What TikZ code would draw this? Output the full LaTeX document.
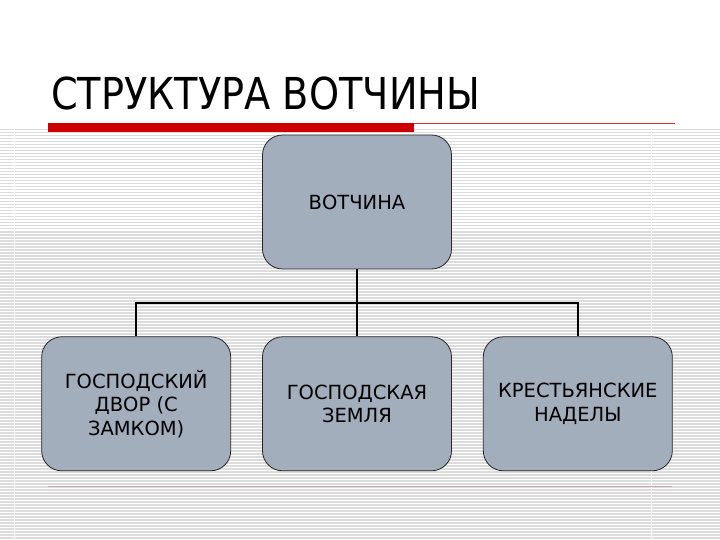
\documentclass[tikz,border=0pt]{standalone}
\usepackage{fontspec}
\usepackage{tikz}
\usetikzlibrary{positioning, calc}
\setmainfont{DejaVu Sans}
\newfontfamily\headfont[FakeStretch=0.87]{DejaVu Sans}
\definecolor{boxfill}{RGB}{163,174,189}
\definecolor{barred}{RGB}{204,0,0}
\definecolor{stripe}{RGB}{220,220,220}
\definecolor{rulepink}{RGB}{205,165,175}

\begin{document}
\begin{tikzpicture}[x=1pt, y=-1pt,
  box/.style={draw=black!85, line width=0.8pt, fill=boxfill, rounded corners=20pt, minimum width=189pt, minimum height=134pt, align=center, inner sep=0pt, font=\fontsize{19.5}{23.5}\selectfont},
  link/.style={line width=1.6pt},
  head/.style={anchor=base west, inner sep=0pt, font=\headfont\fontsize{44}{50}\selectfont}
]
\useasboundingbox (0,0) rectangle (720,540);
% lined background
\foreach \y in {129,132,...,540}
  \fill[stripe] (0,\y) rectangle (720,\y+1.5);
\fill[white] (13.5,128) rectangle (14.8,540);
\fill[white] (651,128) rectangle (652.3,540);

% title and rules
\node[head] (title) at (51,110) {СТРУКТУРА ВОТЧИНЫ};
\draw[barred!80, line width=0.8pt] (414,123.5) -- (675,123.5);
\fill[barred] (48,123) rectangle (414,132);
\draw[rulepink, line width=0.8pt] (48,486) -- (672,486);

\node[box] (votchina) at (357,202) {ВОТЧИНА};
\node[box, below=67pt of votchina] (zemlya) {ГОСПОДСКАЯ\\ЗЕМЛЯ};
\node[box, left=31pt of zemlya] (dvor) {ГОСПОДСКИЙ\\ДВОР (С\\ЗАМКОМ)};
\node[box, right=31pt of zemlya] (nadely) {КРЕСТЬЯНСКИЕ\\НАДЕЛЫ};

\coordinate (fork) at ($(votchina.south)!0.5!(zemlya.north)$);
\draw[link] (votchina.south) -- (zemlya.north);
\draw[link] (dvor.north) |- (fork) -| (nadely.north);
\end{tikzpicture}
\end{document}
